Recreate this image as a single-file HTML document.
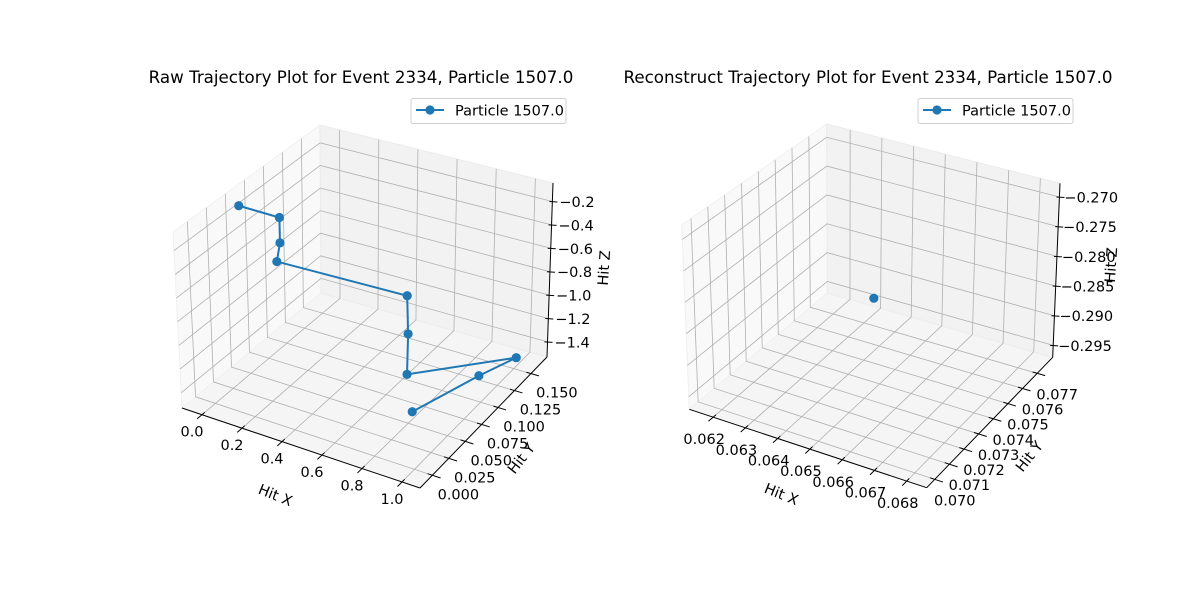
<!DOCTYPE html>
<html><head><meta charset="utf-8"><style>
body{margin:0;background:#fff;}
svg{display:block;font-family:"DejaVu Sans","Liberation Sans",sans-serif;}
</style></head><body>
<svg id="fig" width="1200" height="600" viewBox="0 0 1200 600" xmlns="http://www.w3.org/2000/svg">
<rect width="1200" height="600" fill="#fff"/>
</svg>
<script>
// ---- Panel 1 data (raw trajectory) ----
const rawX = [-0.066, 0.097, 0.097, 0.094, 0.697, 0.702, 0.697, 1.005, 0.999, 0.922];
const rawY = [0.058, 0.068, 0.068, 0.064, 0.078, 0.078, 0.078, 0.152, 0.097, 0.020];
const rawZ = [-0.165, -0.235, -0.452, -0.594, -0.660, -0.980, -1.324, -1.445, -1.290, -1.205];
const rawXTicks = [0.0, 0.2, 0.4, 0.6, 0.8, 1.0];
const rawXTickLabels = ["0.0","0.2","0.4","0.6","0.8","1.0"];
const rawYTicks = [0.000, 0.025, 0.050, 0.075, 0.100, 0.125, 0.150];
const rawYTickLabels = ["0.000","0.025","0.050","0.075","0.100","0.125","0.150"];
const rawZTicks = [-1.4, -1.2, -1.0, -0.8, -0.6, -0.4, -0.2];
const rawZTickLabels = ["\u22121.4","\u22121.2","\u22121.0","\u22120.8","\u22120.6","\u22120.4","\u22120.2"];
const rawXRange = [-0.1, 1.09];
const rawYRange = [-0.0188, 0.1745];
const rawZRange = [-1.529, -0.042];

// ---- Panel 2 data (reconstructed) ----
const recX = [0.06494];
const recY = [0.07375];
const recZ = [-0.2824];
const recXTicks = [0.062, 0.063, 0.064, 0.065, 0.066, 0.067, 0.068];
const recXTickLabels = ["0.062","0.063","0.064","0.065","0.066","0.067","0.068"];
const recYTicks = [0.070, 0.071, 0.072, 0.073, 0.074, 0.075, 0.076, 0.077];
const recYTickLabels = ["0.070","0.071","0.072","0.073","0.074","0.075","0.076","0.077"];
const recZTicks = [-0.295, -0.290, -0.285, -0.280, -0.275, -0.270];
const recZTickLabels = ["\u22120.295","\u22120.290","\u22120.285","\u22120.280","\u22120.275","\u22120.270"];
const recXRange = [0.06126, 0.06862];
const recYRange = [0.06945, 0.07806];
const recZRange = [-0.297, -0.2677];

const NS = "http://www.w3.org/2000/svg";
const svg = document.getElementById('fig');
function mk(tag, attrs, parent){
  const e = document.createElementNS(NS, tag);
  for (const k in attrs) e.setAttribute(k, attrs[k]);
  (parent||svg).appendChild(e);
  return e;
}

function panel(cfg){
  const g = mk('g', {});
  
  
  const C = cfg.corners;
  function P(u,v,w){
    let x=0,y=0;
    for (let i=0;i<2;i++) for (let j=0;j<2;j++) for (let k=0;k<2;k++){
      const wt=(i?u:1-u)*(j?v:1-v)*(k?w:1-w);
      x+=wt*C[i][j][k][0]; y+=wt*C[i][j][k][1];
    }
    return [x,y];
  }
  const fx = x => (x-cfg.xr[0])/(cfg.xr[1]-cfg.xr[0]);
  const fy = y => (y-cfg.yr[0])/(cfg.yr[1]-cfg.yr[0]);
  const fz = z => (z-cfg.zr[0])/(cfg.zr[1]-cfg.zr[0]);
  const poly = pts => pts.map(p=>p.join(',')).join(' ');
  const floor = mk('polygon', {points: poly([P(0,0,0),P(1,0,0),P(1,1,0),P(0,1,0)]), fill:'#f5f5f5', stroke:'#f0f0f0'}, g);
  
  
  const left = mk('polygon', {points: poly([P(0,0,0),P(0,1,0),P(0,1,1),P(0,0,1)]), fill:'#f9f9f9', stroke:'#f0f0f0'}, g);
  
  
  const back = mk('polygon', {points: poly([P(0,1,0),P(1,1,0),P(1,1,1),P(0,1,1)]), fill:'#f2f2f2', stroke:'#ececec'}, g);
  
  
  const gs = {stroke:'#b0b0b0','stroke-width':0.8, fill:'none'};
  const line = (a,b,st,par) => mk('line', Object.assign({x1:a[0],y1:a[1],x2:b[0],y2:b[1]}, st), par||g);
  cfg.xt.forEach(t=>{ const u=fx(t);
    const gl = mk('polyline', Object.assign({points: poly([P(u,0,0),P(u,1,0),P(u,1,1)])}, gs), g);
    
    
  });
  cfg.yt.forEach(t=>{ const v=fy(t);
    const gl = mk('polyline', Object.assign({points: poly([P(1,v,0),P(0,v,0),P(0,v,1)])}, gs), g);
    
    
  });
  cfg.zt.forEach(t=>{ const w=fz(t);
    const gl = mk('polyline', Object.assign({points: poly([P(0,0,w),P(0,1,w),P(1,1,w)])}, gs), g);
    
    
  });
  const ax = {stroke:'#000','stroke-width':1};
  const xa = line(P(0,0,0),P(1,0,0),ax);  
  const ya = line(P(1,0,0),P(1,1,0),ax);  
  const za = line(P(1,1,0),P(1,1,1),ax);  
  const fs = 14.5;
  cfg.xt.forEach((t,i)=>{ const u=fx(t);
    line(P(u,-0.035,0),P(u,0.02,0),ax);
    const p=P(u,0,0);
    const tx = mk('text',{x:p[0]+cfg.xo[0],y:p[1]+cfg.xo[1],'font-size':fs,'text-anchor':'middle',fill:'#000'},g);
    tx.textContent = cfg.xl[i];
    
    
  });
  cfg.yt.forEach((t,i)=>{ const v=fy(t);
    line(P(1.035,v,0),P(0.98,v,0),ax);
    const p=P(1,v,0);
    const tx = mk('text',{x:p[0]+cfg.yo[0],y:p[1]+cfg.yo[1],'font-size':fs,'text-anchor':'middle',fill:'#000'},g);
    tx.textContent = cfg.yl[i];
    
    
  });
  cfg.zt.forEach((t,i)=>{ const w=fz(t);
    const a=P(1,1,w);
    line([a[0]-3,a[1]],[a[0]+5,a[1]+0.5],ax);
    const tx = mk('text',{x:a[0]+cfg.zo,y:a[1]+5.5,'font-size':fs,'text-anchor':'start',fill:'#000'},g);
    tx.textContent = cfg.zl[i];
    
    
  });
  const labs = [['Hit X',cfg.lx,'x-axis-title'],['Hit Y',cfg.ly,'y-axis-title'],['Hit Z',cfg.lz,'z-axis-title']];
  labs.forEach(L=>{
    const tx = mk('text',{x:L[1][0],y:L[1][1],'font-size':14.5,'text-anchor':'middle','dominant-baseline':'middle',fill:'#000',transform:`rotate(${L[1][2]} ${L[1][0]} ${L[1][1]})`},g);
    tx.textContent = L[0];
    
    
  });
  const pts = cfg.X.map((x,i)=>P(fx(x),fy(cfg.Y[i]),fz(cfg.Z[i])));
  if (pts.length>1){
    const pl = mk('polyline',{points:poly(pts),fill:'none',stroke:'#1f77b4','stroke-width':2},g);
    
    
  }
  pts.forEach(p=>{
    const c = mk('circle',{cx:p[0],cy:p[1],r:4.6,fill:'#1f77b4'},g);
    
    
  });
  const ti = mk('text',{x:cfg.title[1],y:83,'font-size':16.7,'text-anchor':'middle',fill:'#000'},g);
  ti.textContent = cfg.title[0];
  
  
  const lg = mk('g',{},g);
  
  
  const L0 = cfg.leg;
  mk('rect',{x:L0,y:98.5,width:155,height:25,rx:2,fill:'#fff','fill-opacity':0.8,stroke:'#d0d0d0'},lg);
  mk('line',{x1:L0+5,y1:110,x2:L0+33,y2:110,stroke:'#1f77b4','stroke-width':2},lg);
  mk('circle',{cx:L0+19,cy:110,r:4.6,fill:'#1f77b4'},lg);
  const lt = mk('text',{x:L0+44,y:115.5,'font-size':14.5,fill:'#000'},lg);
  lt.textContent = 'Particle 1507.0';
  
  
}

panel({
  name:'raw-trajectory-panel',
  corners:[[[[182,408],[173,232]],[[321,293],[320,125]]],[[[420,488],[420,306]],[[547,357],[553,183]]]],
  xr:rawXRange, yr:rawYRange, zr:rawZRange,
  xt:rawXTicks, xl:rawXTickLabels, yt:rawYTicks, yl:rawYTickLabels, zt:rawZTicks, zl:rawZTickLabels,
  xo:[-10,22], yo:[26,24], zo:7,
  lx:[275,496,22], ly:[522,459,-52], lz:[605,268,-86],
  X:rawX, Y:rawY, Z:rawZ,
  title:['Raw Trajectory Plot for Event 2334, Particle 1507.0',361], leg:411
});
panel({
  name:'reconstruct-trajectory-panel',
  corners:[[[[689.3,409.3],[681.7,225]],[[827.3,293],[826.7,124]]],[[[926.7,487.7],[927,303]],[[1052.7,357.3],[1060,183.3]]]],
  xr:recXRange, yr:recYRange, zr:recZRange,
  xt:recXTicks, xl:recXTickLabels, yt:recYTicks, yl:recYTickLabels, zt:recZTicks, zl:recZTickLabels,
  xo:[-9,27], yo:[20,26], zo:5,
  lx:[781,495,22], ly:[1030,457,-52], lz:[1112,265,-86],
  X:recX, Y:recY, Z:recZ,
  title:['Reconstruct Trajectory Plot for Event 2334, Particle 1507.0',868], leg:918
});
</script>
</body></html>
